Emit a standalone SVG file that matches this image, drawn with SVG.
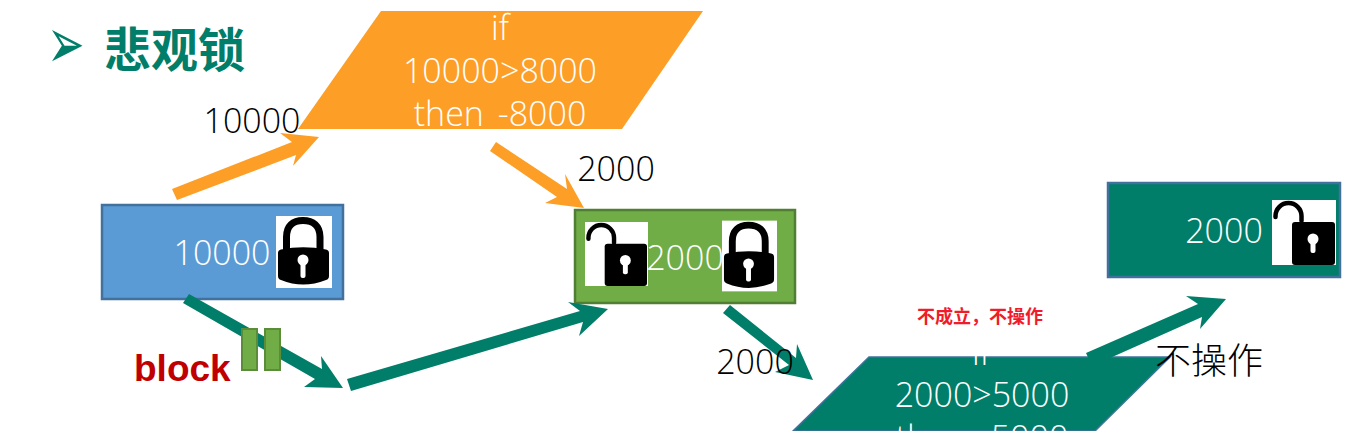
<svg xmlns="http://www.w3.org/2000/svg" xmlns:xlink="http://www.w3.org/1999/xlink" width="1357" height="434" viewBox="0 0 1357 434">
<style>
.t{font-family:"Open Sans","Noto Sans CJK SC",sans-serif;font-weight:300;font-size:34px}
.w{fill:#fff;text-anchor:middle}
.k{fill:#000;text-anchor:middle}
.o{fill:#FD9E26}
.g{fill:#007E69}
.bar{fill:#70AD47;stroke:#5B8C3A;stroke-width:2}
</style>
<defs>
<clipPath id="page"><rect x="0" y="0" width="1357" height="431"/></clipPath>
<symbol id="closed" viewBox="0 0 56 72" overflow="visible">
<rect width="56" height="72" fill="#fff"/>
<path d="M10.500 35V21C10.500 10 17 4.500 27 4.500S44 10 44 21V35" fill="none" stroke="#000" stroke-width="7"/>
<path d="M2 37Q2 34 5 33.500Q27 29 50 33.500Q53 34 53 37V60Q53 63 50 64Q27 73 5 64Q2 63 2 60Z" fill="#000"/>
<circle cx="27" cy="44" r="5.500" fill="#fff"/><rect x="24.500" y="45" width="5" height="17" rx="2" fill="#fff"/>
</symbol>
<symbol id="open" viewBox="0 0 64 65" overflow="visible">
<rect width="64" height="65" fill="#fff"/>
<path d="M3.500 17V16A13 13 0 0 1 29.500 16V21" fill="none" stroke="#000" stroke-width="4.500" stroke-linecap="round"/>
<rect x="20" y="22" width="43" height="43" rx="3" fill="#000"/>
<circle cx="41" cy="39" r="5.500" fill="#fff"/><rect x="38.500" y="40" width="5" height="13" rx="2" fill="#fff"/>
</symbol>
</defs>
<g id="title">
<text transform="translate(47,68) scale(1,1.580)" style="font-family:'DejaVu Sans',sans-serif;font-size:45px" fill="#007E69">➢</text>
<text x="104" y="67" style="font-family:'Noto Sans CJK SC',sans-serif;font-weight:700;font-size:47px" fill="#007E69">悲观锁</text>
</g>
<g id="node-check-1">
<polygon class="o" points="381,11 703,11 622,129 298,129"/>
<text class="t w" x="500" y="40">if</text>
<text class="t w" x="500" y="83">10000&gt;8000</text>
<text class="t w" x="500" y="126" word-spacing="5">then -8000</text>
</g>
<g id="node-balance-1">
<rect x="102" y="205" width="241" height="94" fill="#5B9BD5" stroke="#41719C" stroke-width="2.500"/>
<text class="t w" x="222" y="265">10000</text>
<use xlink:href="#closed" href="#closed" x="276" y="216" width="56" height="72"/>
</g>
<g id="node-balance-2">
<rect x="575" y="210" width="220" height="93" fill="#70AD47" stroke="#507E32" stroke-width="2.500"/>
<use xlink:href="#open" href="#open" x="585" y="222" width="63" height="64"/>
<text class="t w" x="685" y="270">2000</text>
<use xlink:href="#closed" href="#closed" x="722" y="220" width="55" height="72"/>
</g>
<g id="node-check-2" clip-path="url(#page)">
<polygon class="g" points="869,357 1170,357 1095,431 793,431" stroke="#41719C" stroke-width="1.500"/>
<text class="t w" x="981" y="365">if</text>
<text class="t w" x="982" y="407">2000&gt;5000</text>
<text class="t w" x="982" y="450" word-spacing="5">then -5000</text>
</g>
<g id="node-balance-3">
<rect x="1108" y="183" width="232" height="94" fill="#007E69" stroke="#41719C" stroke-width="2.500"/>
<text class="t w" x="1224" y="243">2000</text>
<use xlink:href="#open" href="#open" x="1272" y="200" width="64" height="65"/>
</g>
<g id="connectors">
<polygon class="o" points="172,189 292,142 280,133 319,137 293,166 296,155 177,200"/>
<polygon class="o" points="490,151 496,142 567,189 565,174 584,208 545,203 557,197"/>
<polygon class="g" points="183,303 189,294 322,369 321,356 343,388 304,387 315,379"/>
<polygon class="g" points="347,379 580,311 568,302 608,309 579,336 583,322 351,391"/>
<polygon class="g" points="723,313 730,305 796,358 797,344 813,380 775,372 789,365"/>
<polygon class="g" points="1086,353 1198,304 1186,296 1226,299 1200,329 1202,317 1092,366"/>
</g>
<g id="block-mark">
<rect class="bar" x="242" y="329" width="15" height="41"/>
<rect class="bar" x="265" y="329" width="15" height="41"/>
<text x="134" y="381" style="font-family:'Liberation Sans',sans-serif;font-weight:700;font-size:37px" fill="#C00000">block</text>
</g>
<g id="labels">
<text class="t k" x="252" y="133">10000</text>
<text class="t k" x="616" y="181">2000</text>
<text class="t k" x="755" y="374">2000</text>
<text x="917" y="323" style="font-family:'Noto Sans CJK SC',sans-serif;font-weight:700;font-size:18px" fill="#F01C2C">不成立，不操作</text>
<text x="1155" y="374" style="font-family:'Noto Sans CJK SC',sans-serif;font-weight:300;font-size:36px" fill="#000">不操作</text>
</g>
</svg>
